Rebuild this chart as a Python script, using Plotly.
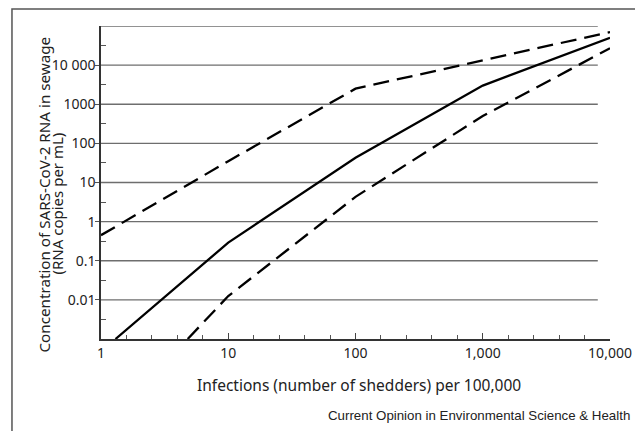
import plotly.graph_objects as go

# ---- data ----
infections_mid = [1.3, 10, 100, 1000, 10000]
conc_mid = [0.001, 0.29, 43, 3000, 50000]

infections_high = [1, 10, 100, 1000, 10000]
conc_high = [0.45, 35, 2500, 13000, 70000]

infections_low = [4.8, 10, 100, 1000, 10000]
conc_low = [0.001, 0.0125, 4.3, 500, 27000]

x_tickvals = [1, 10, 100, 1000, 10000]
x_ticktext = ["1", "10", "100", "1,000", "10,000"]
x_minor = [10 ** (d + f / 5) for d in range(0, 4) for f in range(1, 5)]

y_tickvals = [0.01, 0.1, 1, 10, 100, 1000, 10000]
y_ticktext = ["0.01", "0.1", "1", "10", "100", "1000", "10 000"]
y_grid = [0.01, 0.1, 1, 10, 100, 1000, 10000, 100000]
y_minor = [10 ** (k + 0.5) for k in range(-3, 5)]

FONT = "Noto Sans"
TXT = "#222222"

fig = go.Figure()
line_style = dict(color="black", width=2.3)
fig.add_trace(go.Scatter(x=infections_high, y=conc_high, mode="lines",
                         line=dict(**line_style, dash="16px,8px"), showlegend=False))
fig.add_trace(go.Scatter(x=infections_mid, y=conc_mid, mode="lines",
                         line=dict(**line_style), showlegend=False))
fig.add_trace(go.Scatter(x=infections_low, y=conc_low, mode="lines",
                         line=dict(**line_style, dash="16px,8px"), showlegend=False))

shapes = []
# horizontal gridlines (stop slightly short of the right end, as in the original)
for v in y_grid:
    shapes.append(dict(type="line", xref="paper", yref="y", x0=0, x1=0.976,
                       y0=v, y1=v, line=dict(color="#6e6e6e", width=1.3), layer="below"))
# outer frame of the figure
shapes.append(dict(type="rect", xref="paper", yref="paper",
                   x0=-0.1749, x1=1.2, y0=-0.5, y1=1.0543,
                   line=dict(color="#555555", width=1.5)))

annotations = [
    dict(text="Infections (number of shedders) per 100,000", xref="paper", yref="paper",
         x=0.507, y=0, yshift=-46, xanchor="center", yanchor="middle", showarrow=False,
         font=dict(family=FONT, size=15.5, color=TXT)),
    dict(text="Concentration of SARS-CoV-2 RNA in sewage", xref="paper", yref="paper",
         x=0, xshift=-57, y=0.4617, xanchor="center", yanchor="middle", textangle=-90,
         showarrow=False, font=dict(family=FONT, size=15.2, color=TXT)),
    dict(text="(RNA copies per mL)", xref="paper", yref="paper",
         x=0, xshift=-44, y=0.433, xanchor="center", yanchor="middle", textangle=-90,
         showarrow=False, font=dict(family=FONT, size=15, color=TXT)),
    dict(text="Current Opinion in Environmental Science & Health", xref="paper", yref="paper",
         x=1, xshift=22, y=0, yshift=-76, xanchor="right", yanchor="middle", showarrow=False,
         font=dict(family="Liberation Sans", size=13.3, color=TXT)),
]

fig.update_layout(
    width=635, height=431,
    margin=dict(l=101, r=25, t=26, b=92),
    paper_bgcolor="white", plot_bgcolor="white",
    shapes=shapes, annotations=annotations,
    font=dict(family=FONT, size=14, color=TXT),
)
fig.update_xaxes(
    type="log", range=[0, 4], showgrid=False, zeroline=False, automargin=False,
    showline=True, linecolor="#333333", linewidth=1.5,
    tickmode="array", tickvals=x_tickvals, ticktext=x_ticktext,
    ticks="inside", ticklen=6, tickwidth=1.2, tickcolor="#444444",
    minor=dict(tickmode="array", tickvals=x_minor, ticks="inside", ticklen=4,
               tickwidth=1, tickcolor="#555555", showgrid=False),
    tickfont=dict(family=FONT, size=14, color=TXT),
)
fig.update_yaxes(
    type="log", range=[-3, 5], showgrid=False, zeroline=False, automargin=False,
    showline=True, linecolor="#333333", linewidth=1.5,
    tickmode="array", tickvals=y_tickvals, ticktext=y_ticktext,
    ticks="outside", ticklen=4, tickwidth=1.2, tickcolor="#555555",
    ticklabelstandoff=-3,
    minor=dict(tickmode="array", tickvals=y_minor, ticks="inside", ticklen=5,
               tickwidth=1, tickcolor="#555555", showgrid=False),
    tickfont=dict(family=FONT, size=14, color=TXT),
)

fig.write_html("out.html", config={"displayModeBar": False},
               post_script="document.body.style.margin='0';")
